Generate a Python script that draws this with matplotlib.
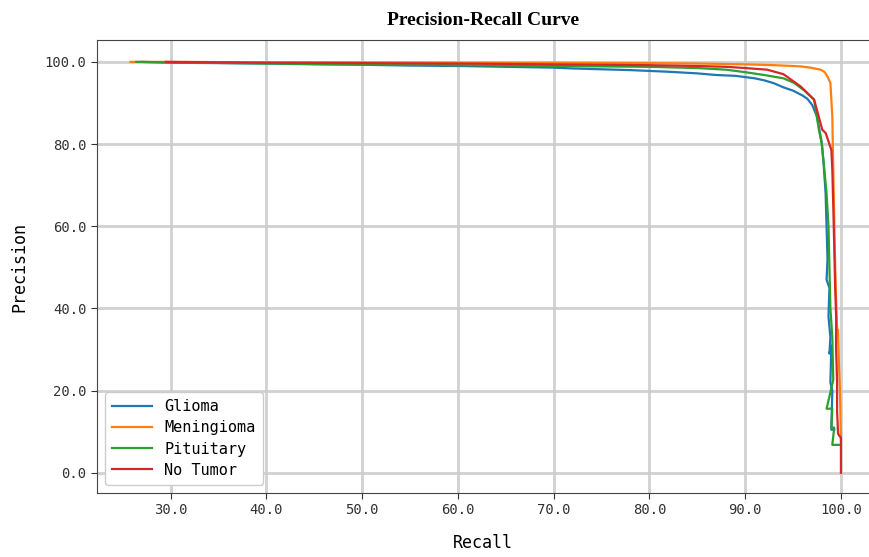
import matplotlib.pyplot as plt
from matplotlib.ticker import FormatStrFormatter

# Values (recall %, precision %)
glioma_recall = [27.0, 30, 35, 40, 45, 50, 55, 60, 65, 70, 72, 75, 78, 80, 82, 85, 87, 89,
                 90, 91, 92, 93, 94, 95, 96, 96.5, 97, 97.5, 98.0, 98.2, 98.4, 98.5, 98.6,
                 98.5, 98.8, 98.7, 98.9, 98.8, 99.0, 98.9, 99.1, 99.0, 99.3]
glioma_precision = [100, 99.8, 99.7, 99.6, 99.4, 99.3, 99.1, 99.0, 98.8, 98.6, 98.4, 98.2,
                    98.0, 97.8, 97.6, 97.2, 96.8, 96.6, 96.3, 96.0, 95.5, 94.8, 93.8, 93.0,
                    91.8, 91.0, 89.5, 86.7, 80.3, 75.0, 68.0, 60.0, 52.0, 47.0, 45.0, 38.0,
                    33.0, 29.0, 31.0, 22.0, 20.0, 10.5, 10.5]

meningioma_recall = [25.8, 30, 40, 50, 60, 70, 80, 85, 90, 93, 95, 95.8, 96.8, 97.9, 98.3,
                     98.6, 98.9, 99.1, 99.2, 99.3, 99.4, 99.5, 99.6, 99.7, 99.8, 99.9, 100]
meningioma_precision = [100, 100, 99.9, 99.9, 99.8, 99.8, 99.7, 99.6, 99.4, 99.2, 99.0,
                        98.9, 98.6, 98.1, 97.5, 96.4, 94.9, 86.7, 73.7, 62.0, 50.0, 42.0,
                        35.0, 34.8, 26.0, 20.0, 8.0]

pituitary_recall = [26.4, 30, 40, 50, 60, 70, 80, 85, 88, 90, 92, 94, 95.1, 96.2, 97.2,
                    97.7, 98.0, 98.2, 98.5, 98.7, 98.8, 98.9, 99.1, 99.2, 98.5, 99.1, 99.0,
                    99.3, 99.1, 99.8]
pituitary_precision = [100, 99.9, 99.6, 99.4, 99.2, 99.0, 98.8, 98.5, 98.1, 97.5, 96.8,
                       96.0, 94.9, 93.0, 90.8, 83.5, 80.0, 75.4, 68.0, 60.0, 50.0, 40.0,
                       33.0, 22.6, 15.6, 15.6, 11.0, 11.0, 6.8, 6.8]

no_tumor_recall = [29.5, 40, 50, 60, 70, 80, 85, 88, 90, 92.3, 94, 95.8, 97.2, 98.05, 98.4,
                   99.0, 99.1, 99.2, 99.3, 99.4, 99.5, 99.5, 99.6, 99.6, 99.7, 100, 100]
no_tumor_precision = [100, 99.8, 99.7, 99.6, 99.4, 99.2, 99.0, 98.8, 98.5, 98.1, 97.0,
                      94.0, 90.8, 83.5, 82.7, 78.6, 73.7, 65.0, 55.0, 45.0, 38.0, 30.0,
                      22.0, 15.0, 9.5, 8.5, 0.0]

series = [
    ("Glioma", glioma_recall, glioma_precision, "#1f77b4"),
    ("Meningioma", meningioma_recall, meningioma_precision, "#ff7f0e"),
    ("Pituitary", pituitary_recall, pituitary_precision, "#2ca02c"),
    ("No Tumor", no_tumor_recall, no_tumor_precision, "#d62728"),
]

mono = "DejaVu Sans Mono"

fig = plt.figure(figsize=(8.7, 5.57), dpi=100)
ax = fig.add_axes([0.1115, 0.115, 0.887, 0.813])

for name, rec, prec, col in series:
    ax.plot(rec, prec, color=col, linewidth=1.6, label=name)

ax.set_xlim(22.3, 102.9)
ax.set_ylim(-4.9, 105.3)
ax.set_xticks([30, 40, 50, 60, 70, 80, 90, 100])
ax.set_yticks([0, 20, 40, 60, 80, 100])
ax.xaxis.set_major_formatter(FormatStrFormatter("%.1f"))
ax.yaxis.set_major_formatter(FormatStrFormatter("%.1f"))
ax.grid(True, color="#cccccc", linewidth=2, alpha=0.9)
ax.set_axisbelow(True)

for lab in ax.get_xticklabels() + ax.get_yticklabels():
    lab.set_fontfamily(mono)
    lab.set_fontsize(10)
ax.tick_params(colors="#333333", length=4)
ax.spines["right"].set_visible(False)
for s in ["left", "bottom", "top"]:
    ax.spines[s].set_color("#444444")

ax.set_xlabel("Recall", fontfamily=mono, fontsize=12, labelpad=12)
ax.set_ylabel("Precision", fontfamily=mono, fontsize=12, labelpad=12)
ax.set_title("Precision-Recall Curve", fontfamily="Liberation Serif",
             fontweight="bold", fontsize=14, pad=11)

ax.legend(loc="lower left", prop={"family": mono, "size": 11},
          handlelength=2.6, borderpad=0.5, labelspacing=0.4, framealpha=1)

fig.savefig("out.png", dpi=100)
